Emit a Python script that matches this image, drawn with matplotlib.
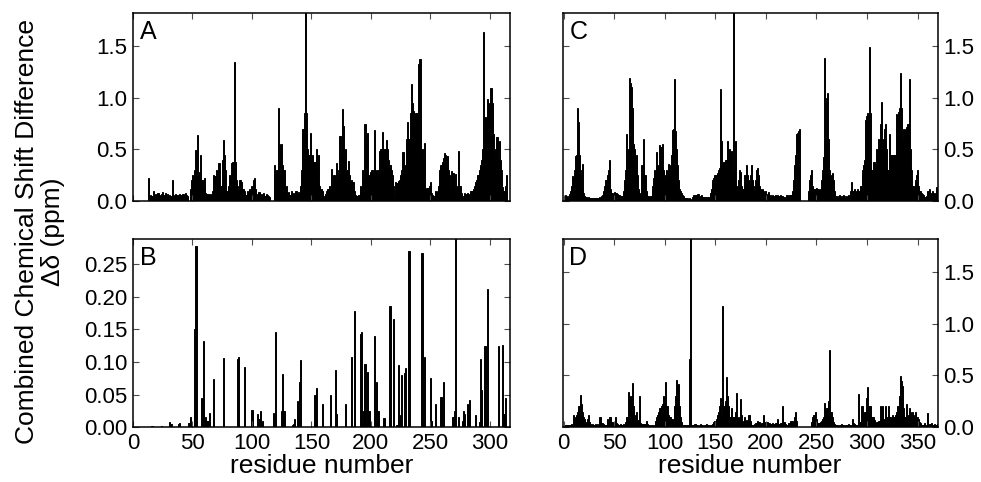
import numpy as np
import matplotlib
matplotlib.use("Agg")
import matplotlib.pyplot as plt
from matplotlib.ticker import FormatStrFormatter

plt.rcParams['font.family'] = ['Liberation Sans', 'DejaVu Sans']

# panel A: residues 1..314
a_vals = [
    0, 0, 0, 0, 0, 0, 0, 0, 0, 0,
    0, 0, 0.22, 0.04, 0.06, 0.05, 0.1, 0.05, 0.07, 0.04,
    0.08, 0.06, 0.05, 0.07, 0.09, 0.06, 0.08, 0.05, 0.07, 0.04,
    0.06, 0.05, 0.2, 0.06, 0.05, 0.07, 0.06, 0.06, 0.07, 0.05,
    0.06, 0.07, 0.06, 0.08, 0.06, 0.05, 0.0, 0.12, 0.2, 0.25,
    0.22, 0.3, 0.49, 0.64, 0.25, 0.28, 0.45, 0.2, 0.12, 0.22,
    0.08, 0.07, 0.07, 0.06, 0.07, 0.06, 0.1, 0.25, 0.24, 0.3,
    0.18, 0.37, 0.37, 0.15, 0.4, 0.59, 0.45, 0.3, 0.1, 0.15,
    0.25, 0.2, 0.37, 0.38, 1.35, 0.38, 0.2, 0.15, 0.1, 0.2,
    0.18, 0.12, 0.12, 0.1, 0.06, 0.1, 0.08, 0.12, 0.1, 0.15,
    0.2, 0.22, 0.12, 0.0, 0.07, 0.09, 0.05, 0.07, 0.06, 0.08,
    0.05, 0.07, 0.06, 0.05, 0.04, 0.0, 0.0, 0.0, 0.35, 0.25,
    0.3, 0.9, 0.55, 0.5, 0.55, 0.35, 0.3, 0.1, 0.15, 0.05,
    0.09, 0.06, 0.1, 0.07, 0.08, 0.06, 0.1, 0.05, 0.09, 0.07,
    0.15, 0.3, 0.7, 0.85, 1.9, 0.85, 0.5, 0.45, 0.66, 0.4,
    0.45, 0.38, 0.38, 0.5, 0.3, 0.45, 0.15, 0.12, 0.1, 0.04,
    0.05, 0.07, 0.1, 0.12, 0.15, 0.1, 0.31, 0.15, 0.25, 0.2,
    0.37, 0.2, 0.3, 0.63, 0.45, 0.89, 0.73, 0.39, 0.5, 0.3,
    0.39, 0.25, 0.18, 0.2, 0.18, 0.1, 0.06, 0.05, 0.05, 0.06,
    0.15, 0.1, 0.3, 0.2, 0.75, 0.55, 0.66, 0.25, 0.25, 0.28,
    0.3, 0.25, 0.69, 0.3, 0.28, 0.3, 0.48, 0.5, 0.5, 0.67,
    0.5, 0.5, 0.59, 0.5, 0.4, 0.35, 0.3, 0.25, 0.15, 0.04,
    0.18, 0.17, 0.19, 0.2, 0.25, 0.3, 0.47, 0.3, 0.35, 0.6,
    0.76, 0.6, 0.85, 1.13, 0.95, 0.87, 0.81, 0.85, 0.85, 1.33,
    1.37, 1.37, 0.5, 0.4, 0.56, 0.12, 0.13, 0.13, 0.15, 0.18,
    0.08, 0.06, 0.05, 0.1, 0.08, 0.1, 0.15, 0.3, 0.35, 0.38,
    0.42, 0.46, 0.45, 0.44, 0.3, 0.25, 0.1, 0.29, 0.27, 0.1,
    0.26, 0.1, 0.15, 0.48, 0.15, 0.08, 0.05, 0.03, 0.08, 0.07,
    0.08, 0.06, 0.07, 0.1, 0.1, 0.12, 0.15, 0.18, 0.2, 0.25,
    0.3, 0.35, 0.4, 0.5, 1.64, 0.81, 0.8, 0.99, 0.95, 0.9,
    1.09, 0.95, 0.65, 0.5, 0.44, 0.62, 0.4, 0.58, 0.4, 0.3,
    0.14, 0.1, 0.15, 0.25,
]

# panel B: sparse, residue -> value
b_res = [16, 24, 31, 32, 38, 39, 47, 48, 52, 53, 58, 59, 61, 62, 63, 64, 68,
         76, 88, 89, 94, 100, 105, 106, 107, 109, 118, 120, 125, 126, 127,
         134, 135, 136, 138, 139, 140, 141, 153, 154, 159, 166, 170, 171,
         179, 184, 186, 191, 192, 194, 195, 197, 198, 199, 200, 203, 205,
         206, 211, 216, 219, 222, 223, 224, 226, 228, 229, 232, 243, 245,
         250, 251, 254, 259, 261, 269, 270, 271, 274, 277, 278, 279, 281,
         282, 283, 288, 291, 292, 293, 296, 298, 307, 311, 312, 313]
b_vals = [0.001, 0.001, 0.007, 0.004, 0.004, 0.006, 0.006, 0.015, 0.151,
          0.279, 0.045, 0.133, 0.015, 0.01, 0.01, 0.022, 0.074, 0.106,
          0.105, 0.108, 0.093, 0.026, 0.02, 0.012, 0.025, 0.009, 0.021,
          0.146, 0.025, 0.082, 0.025, 0.003, 0.005, 0.012, 0.04, 0.01,
          0.07, 0.103, 0.05, 0.06, 0.036, 0.049, 0.088, 0.02, 0.036,
          0.108, 0.179, 0.143, 0.146, 0.025, 0.097, 0.084, 0.025, 0.025,
          0.005, 0.14, 0.07, 0.025, 0.014, 0.186, 0.166, 0.003, 0.096,
          0.018, 0.08, 0.083, 0.091, 0.27, 0.267, 0.107, 0.075, 0.01,
          0.036, 0.046, 0.07, 0.015, 0.024, 0.29, 0.016, 0.01, 0.025,
          0.02, 0.035, 0.025, 0.042, 0.018, 0.008, 0.105, 0.057, 0.124,
          0.213, 0.124, 0.126, 0.02, 0.045]

# panel C: residues 1..370
c_vals = [
    0.04, 0.06, 0.05, 0.03, 0.05, 0.07, 0.1, 0.15, 0.24, 0.2,
    0.3, 0.44, 0.45, 0.9, 0.76, 0.45, 0.3, 0.12, 0.36, 0.08,
    0.05, 0.04, 0.04, 0.03, 0.04, 0.03, 0.03, 0.03, 0.03, 0.03,
    0.03, 0.03, 0.03, 0.03, 0.03, 0.04, 0.03, 0.05, 0.06, 0.1,
    0.15, 0.2, 0.25, 0.3, 0.4, 0.12, 0.08, 0.08, 0.07, 0.09,
    0.08, 0.08, 0.07, 0.06, 0.06, 0.05, 0.05, 0.05, 0.1, 0.2,
    0.3, 0.65, 0.4, 0.5, 1.19, 1.14, 1.1, 0.9, 0.55, 0.5,
    0.3, 0.45, 0.25, 0.12, 0.08, 0.07, 0.35, 0.35, 0.6, 0.25,
    0.25, 0.1, 0.05, 0.05, 0.04, 0.05, 0.05, 0.15, 0.22, 0.3,
    0.28, 0.47, 0.35, 0.3, 0.54, 0.52, 0.52, 0.55, 0.3, 0.2,
    0.25, 0.3, 0.2, 0.36, 0.3, 0.35, 0.45, 0.69, 0.7, 1.18,
    0.68, 0.5, 0.35, 0.2, 0.12, 0.1, 0.08, 0.06, 0.05, 0.03,
    0.03, 0.03, 0.03, 0.02, 0.03, 0.01, 0.02, 0.04, 0.06, 0.06,
    0.06, 0.07, 0.07, 0.04, 0.05, 0.06, 0.04, 0.04, 0.04, 0.04,
    0.04, 0.04, 0.04, 0.03, 0.08, 0.12, 0.2, 0.22, 0.25, 0.25,
    0.25, 0.27, 0.3, 0.32, 1.08, 0.58, 0.35, 0.38, 0.38, 0.4,
    0.4, 0.58, 0.4, 0.5, 0.45, 0.48, 0.25, 1.9, 0.3, 0.58,
    0.15, 0.1, 0.2, 0.3, 0.28, 0.15, 0.12, 0.12, 0.25, 0.25,
    0.35, 0.25, 0.2, 0.15, 0.25, 0.35, 0.2, 0.15, 0.1, 0.2,
    0.3, 0.32, 0.25, 0.15, 0.12, 0.1, 0.12, 0.1, 0.08, 0.1,
    0.07, 0.06, 0.09, 0.05, 0.06, 0.05, 0.06, 0.05, 0.05, 0.06,
    0.05, 0.06, 0.05, 0.05, 0.06, 0.05, 0.05, 0.04, 0.03, 0.06,
    0.06, 0.05, 0.06, 0.06, 0.06, 0.1, 0.2, 0.35, 0.45, 0.65,
    0.66, 0.68, 0.7, 0, 0, 0, 0, 0, 0, 0,
    0, 0.1, 0.2, 0.25, 0.3, 0.15, 0.12, 0.12, 0.12, 0.13,
    0.12, 0.12, 0.1, 0.12, 0.2, 0.3, 0.43, 1.38, 0.6, 1.0,
    1.05, 0.6, 0.3, 0.25, 0.2, 0.27, 0.2, 0.1, 0.05, 0.05,
    0.04, 0.05, 0.06, 0.05, 0.04, 0.05, 0.06, 0.04, 0.05, 0.04,
    0.05, 0.06, 0.05, 0.1, 0.18, 0.1, 0.1, 0.12, 0.08, 0.1,
    0.12, 0.1, 0.1, 0.15, 0.15, 0.3, 0.35, 0.4, 0.78, 0.82,
    0.85, 0.82, 1.49, 0.85, 0.3, 0.38, 0.38, 0.32, 0.5, 0.45,
    0.6, 0.55, 0.75, 0.96, 0.5, 0.6, 0.7, 0.75, 0.5, 0.3,
    0.3, 0.65, 0.45, 0.45, 0.45, 0.45, 0.45, 0.45, 0.84, 0.83,
    0.86, 0.9, 1.24, 0.9, 0.6, 0.7, 0.68, 0.7, 0.72, 0.75,
    0.75, 1.18, 0.5, 0.3, 0.15, 0.15, 0.12, 0.2, 0.25, 0.3,
    0.15, 0.1, 0.1, 0.08, 0.07, 0.06, 0.04, 0.04, 0.05, 0.1,
    0.1, 0.12, 0.08, 0.06, 0.1, 0.08, 0.05, 0.08, 0.14, 0.1,
]

# panel D: residues 1..370
d_vals = [
    0.02, 0.02, 0.02, 0.02, 0.02, 0.02, 0.02, 0.03, 0.02, 0.12,
    0.07, 0.1, 0.12, 0.15, 0.2, 0.2, 0.31, 0.22, 0.15, 0.1,
    0.08, 0.05, 0.04, 0.08, 0.12, 0.05, 0.03, 0.02, 0.03, 0.02,
    0.02, 0.03, 0.02, 0.03, 0.02, 0.1, 0.1, 0.04, 0.04, 0.03,
    0.02, 0.02, 0.08, 0.05, 0.1, 0.1, 0.05, 0.05, 0.02, 0.03,
    0.1, 0.04, 0.03, 0.02, 0.02, 0.03, 0.02, 0.02, 0.03, 0.02,
    0.05, 0.1, 0.1, 0.34, 0.25, 0.3, 0.25, 0.43, 0.2, 0.06,
    0.12, 0.15, 0.05, 0.07, 0.3, 0.04, 0.03, 0.03, 0.03, 0.03,
    0.03, 0.06, 0.03, 0.02, 0.02, 0.01, 0.02, 0.02, 0.01, 0.02,
    0.06, 0.1, 0.12, 0.15, 0.18, 0.18, 0.2, 0.22, 0.3, 0.2,
    0.44, 0.2, 0.2, 0.12, 0.1, 0.1, 0.08, 0.08, 0.05, 0.2,
    0.3, 0.46, 0.4, 0.42, 0.2, 0.1, 0.05, 0.02, 0.02, 0.02,
    0.02, 0.02, 0.02, 0.02, 0.66, 1.9, 0.02, 0.02, 0.02, 0.03,
    0.02, 0.02, 0.01, 0.02, 0.03, 0.02, 0.02, 0.01, 0.02, 0.02,
    0.03, 0.02, 0.02, 0.01, 0.02, 0.02, 0.03, 0.05, 0.06, 0.06,
    0.08, 0.12, 0.15, 0.2, 0.28, 0.1, 1.17, 0.2, 0.2, 0.25,
    0.48, 0.3, 0.2, 0.1, 0.1, 0.18, 0.1, 0.1, 0.1, 0.15,
    0.33, 0.1, 0.07, 0.1, 0.27, 0.12, 0.05, 0.06, 0.1, 0.02,
    0.07, 0.05, 0.12, 0.12, 0.06, 0.02, 0.02, 0.02, 0.03, 0.04,
    0.04, 0.06, 0.05, 0.05, 0.03, 0.04, 0.04, 0.12, 0.04, 0.05,
    0.05, 0.05, 0.04, 0.04, 0.03, 0.03, 0.04, 0.03, 0.03, 0.04,
    0.04, 0.08, 0.03, 0.03, 0.04, 0.04, 0.2, 0.05, 0.03, 0.02,
    0.02, 0.04, 0.04, 0.06, 0.06, 0.06, 0.05, 0.1, 0.15, 0.06,
    0, 0, 0, 0, 0, 0, 0, 0, 0, 0,
    0, 0, 0, 0, 0.05, 0.1, 0.12, 0.12, 0.15, 0.08,
    0.04, 0.04, 0.04, 0.05, 0.06, 0.08, 0.1, 0.23, 0.16, 0.18,
    0.18, 0.25, 0.75, 0.15, 0.15, 0.1, 0.05, 0.03, 0.02, 0.02,
    0.02, 0.01, 0.02, 0.02, 0.03, 0.02, 0.02, 0.01, 0.02, 0.02,
    0.02, 0.03, 0.02, 0.02, 0.02, 0.08, 0.04, 0.03, 0.02, 0.02,
    0.02, 0.32, 0.05, 0.05, 0.2, 0.2, 0.14, 0.15, 0.15, 0.28,
    0.39, 0.2, 0.2, 0.2, 0.1, 0.1, 0.07, 0.04, 0.05, 0.05,
    0.06, 0.06, 0.2, 0.12, 0.2, 0.08, 0.05, 0.2, 0.1, 0.04,
    0.2, 0.1, 0.1, 0.08, 0.12, 0.1, 0.1, 0.12, 0.15, 0.2,
    0.2, 0.3, 0.49, 0.45, 0.4, 0.18, 0.1, 0.1, 0.22, 0.05,
    0.12, 0.18, 0.15, 0.1, 0.15, 0.12, 0.08, 0.15, 0.1, 0.1,
    0.08, 0.05, 0.04, 0.02, 0.02, 0.02, 0.04, 0.02, 0.01, 0.14,
    0.02, 0.03, 0.03, 0.04, 0.02, 0.02, 0.03, 0.02, 0.02, 0.03,
]

fig = plt.figure(figsize=(9.81, 4.82), dpi=100)
axA = fig.add_axes([0.1356, 0.583, 0.3843, 0.390])
axB = fig.add_axes([0.1356, 0.114, 0.3843, 0.390])
axC = fig.add_axes([0.5734, 0.583, 0.3825, 0.390])
axD = fig.add_axes([0.5734, 0.114, 0.3825, 0.390])

panels = [
    (axA, np.arange(1, len(a_vals) + 1), a_vals, 'A'),
    (axB, np.array(b_res), b_vals, 'B'),
    (axC, np.arange(1, len(c_vals) + 1), c_vals, 'C'),
    (axD, np.arange(1, len(d_vals) + 1), d_vals, 'D'),
]

for ax, x, y, lab in panels:
    ax.bar(x, y, width=1.0, color='black', edgecolor='black', linewidth=0.7)
    ax.text(0.018, 0.965, lab, transform=ax.transAxes, va='top', ha='left', fontsize=18)
    for s in ax.spines.values():
        s.set_linewidth(1.1)
    ax.tick_params(direction='in', top=True, bottom=True, left=True, right=True,
                   length=4, width=0.8, labelsize=16, color='0.3', pad=4)

# left panels
for ax in (axA, axB):
    ax.set_xlim(0, 317)
    ax.set_xticks([0, 50, 100, 150, 200, 250, 300])
axA.set_ylim(0, 1.82)
axA.set_yticks([0, 0.5, 1.0, 1.5])
axA.yaxis.set_major_formatter(FormatStrFormatter('%.1f'))
axA.tick_params(labelbottom=False)
axB.set_ylim(0, 0.289)
axB.set_yticks([0, 0.05, 0.10, 0.15, 0.20, 0.25])
axB.yaxis.set_major_formatter(FormatStrFormatter('%.2f'))
axB.set_xlabel('residue number', fontsize=19, labelpad=0)

# right panels
for ax in (axC, axD):
    ax.set_xlim(-1, 370)
    ax.set_xticks([0, 50, 100, 150, 200, 250, 300, 350])
    ax.set_ylim(0, 1.82)
    ax.set_yticks([0, 0.5, 1.0, 1.5])
    ax.yaxis.set_major_formatter(FormatStrFormatter('%.1f'))
    ax.tick_params(labelleft=False, labelright=True)
axC.tick_params(labelbottom=False)
axD.set_xlabel('residue number', fontsize=19, labelpad=0)

fig.text(0.041, 0.52, 'Combined Chemical Shift Difference\n\u0394\u03b4 (ppm)',
         rotation=90, ha='center', va='center', fontsize=19,
         multialignment='center', linespacing=1.1)

plt.savefig('out.png', dpi=100)
